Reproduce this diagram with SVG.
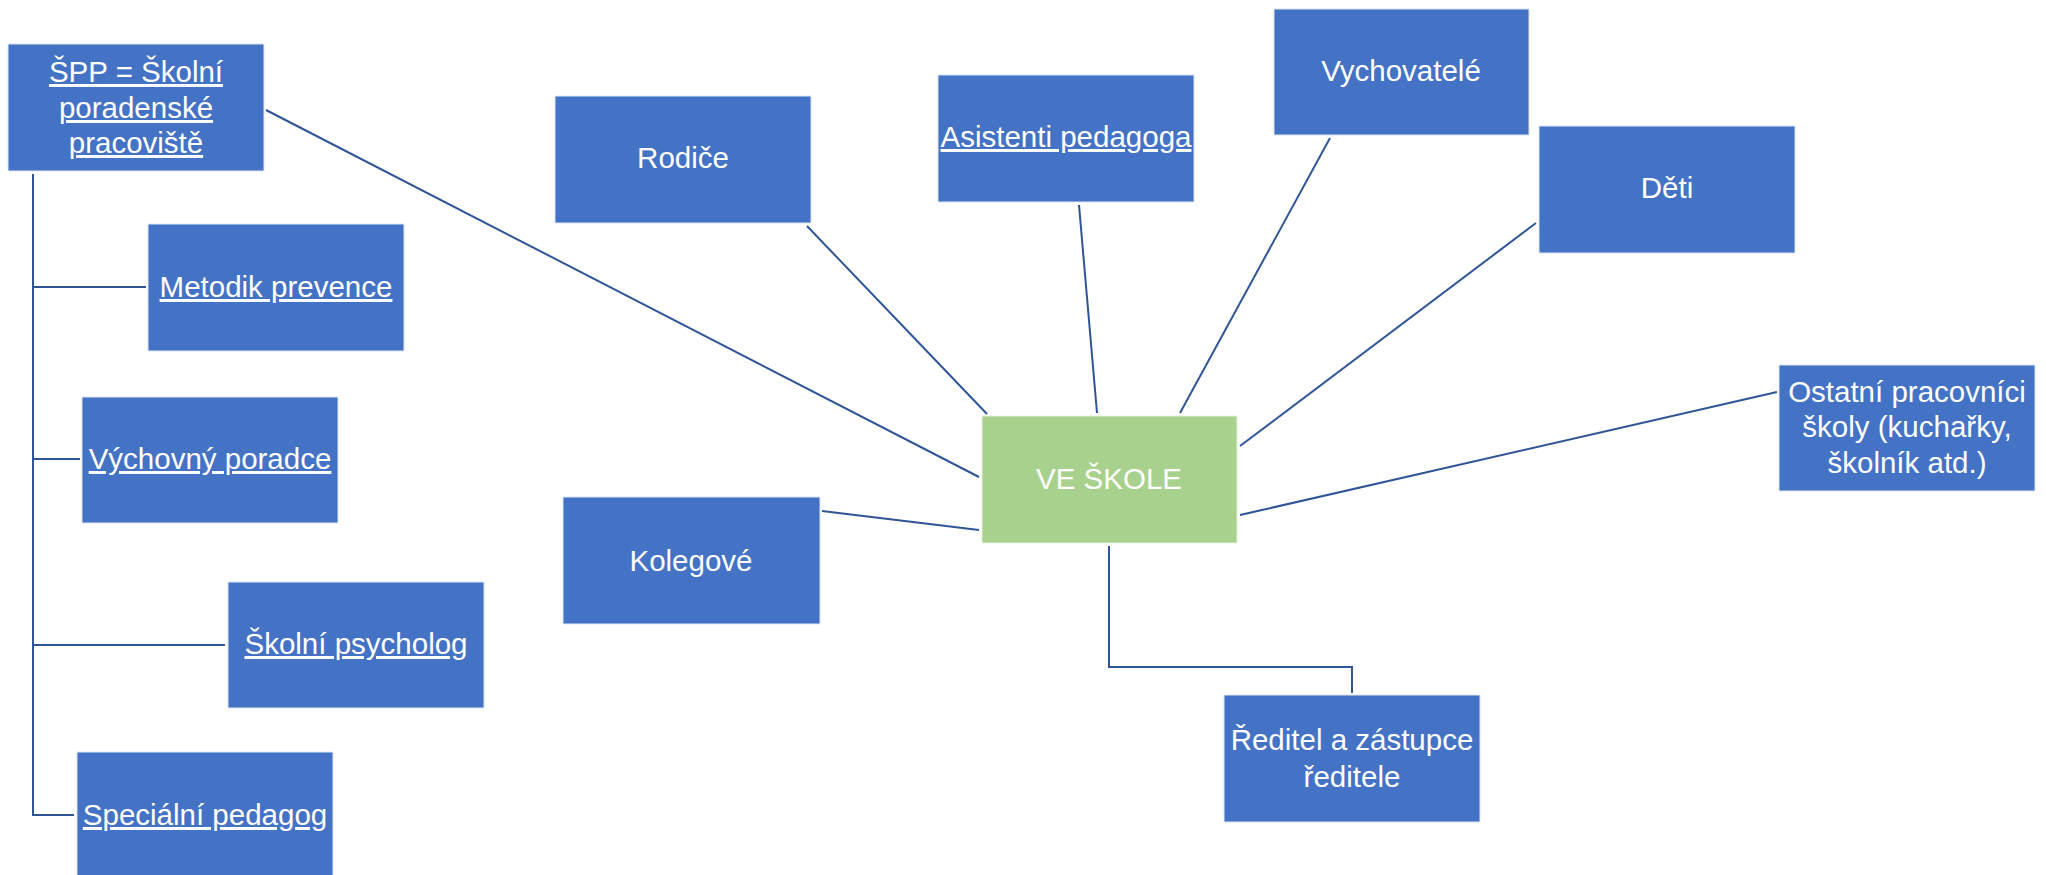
<svg xmlns="http://www.w3.org/2000/svg" width="2046" height="875" viewBox="0 0 2046 875">
<style>
.box{fill:#4472C4;stroke:#DCE5F5;stroke-width:1}
.green{fill:#A9D18E;stroke:#E6F2DE;stroke-width:1}
.t{font-family:"Liberation Sans",Arial,sans-serif;font-size:29.5px;fill:#FFFFFF;text-anchor:middle}
.u{text-decoration:underline}
.c{fill:none;stroke:#2F5597;stroke-width:2}
</style>
<rect width="2046" height="875" fill="#FFFFFF"/>
<g id="connectors">
<line class="c" x1="266" y1="110" x2="979" y2="477"/>
<polyline class="c" points="33,174 33,815 74,815"/>
<line class="c" x1="33" y1="287" x2="146" y2="287"/>
<line class="c" x1="33" y1="459" x2="80" y2="459"/>
<line class="c" x1="33" y1="645" x2="225" y2="645"/>
<line class="c" x1="807" y1="226" x2="987" y2="414"/>
<line class="c" x1="1079" y1="205" x2="1097" y2="413"/>
<line class="c" x1="1330" y1="138" x2="1180" y2="413"/>
<line class="c" x1="1536" y1="223" x2="1240" y2="446"/>
<line class="c" x1="1777" y1="392" x2="1240" y2="515"/>
<line class="c" x1="822" y1="511" x2="979" y2="530"/>
<polyline class="c" points="1109,546 1109,667 1352,667 1352,693"/>
</g>
<g id="spp">
<rect class="box" x="8" y="44" width="256" height="127"/>
<text class="t u" x="136" y="82">ŠPP = Školní</text>
<text class="t u" x="136" y="118">poradenské</text>
<text class="t u" x="136" y="153">pracoviště</text>
</g>
<g id="metodik">
<rect class="box" x="148" y="224" width="256" height="127"/>
<text class="t u" x="276" y="297">Metodik prevence</text>
</g>
<g id="vychovny">
<rect class="box" x="82" y="397" width="256" height="126"/>
<text class="t u" x="210" y="469">Výchovný poradce</text>
</g>
<g id="psycholog">
<rect class="box" x="228" y="582" width="256" height="126"/>
<text class="t u" x="356" y="654">Školní psycholog</text>
</g>
<g id="specialni">
<rect class="box" x="77" y="752" width="256" height="127"/>
<text class="t u" x="205" y="825">Speciální pedagog</text>
</g>
<g id="rodice">
<rect class="box" x="555" y="96" width="256" height="127"/>
<text class="t" x="683" y="168">Rodiče</text>
</g>
<g id="asistenti">
<rect class="box" x="938" y="75" width="256" height="127"/>
<text class="t u" x="1066" y="147">Asistenti pedagoga</text>
</g>
<g id="vychovatele">
<rect class="box" x="1274" y="9" width="255" height="126"/>
<text class="t" x="1401" y="81">Vychovatelé</text>
</g>
<g id="deti">
<rect class="box" x="1539" y="126" width="256" height="127"/>
<text class="t" x="1667" y="198">Děti</text>
</g>
<g id="ve-skole">
<rect class="green" x="982" y="416" width="255" height="127"/>
<text class="t" x="1109" y="489">VE ŠKOLE</text>
</g>
<g id="kolegove">
<rect class="box" x="563" y="497" width="257" height="127"/>
<text class="t" x="691" y="571">Kolegové</text>
</g>
<g id="ostatni">
<rect class="box" x="1779" y="365" width="256" height="126"/>
<text class="t" x="1907" y="402">Ostatní pracovníci</text>
<text class="t" x="1907" y="437">školy (kuchařky,</text>
<text class="t" x="1907" y="473">školník atd.)</text>
</g>
<g id="reditel">
<rect class="box" x="1224" y="695" width="256" height="127"/>
<text class="t" x="1352" y="750">Ředitel a zástupce</text>
<text class="t" x="1352" y="787">ředitele</text>
</g>
</svg>
